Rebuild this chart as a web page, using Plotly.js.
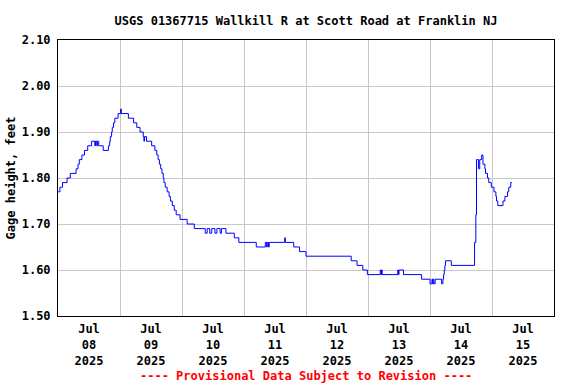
<!DOCTYPE html>
<html>
<head>
<meta charset="utf-8">
<script src="https://cdn.plot.ly/plotly-3.0.1.min.js"></script>
<style>html,body{margin:0;padding:0;background:#fff;}#chart{width:576px;height:384px;}</style>
</head>
<body>
<div id="chart"></div>
<script>
// Gage height readings (step changes)
var times = [
"2025-07-08 00:00","2025-07-08 00:45","2025-07-08 01:45","2025-07-08 03:30","2025-07-08 04:45",
"2025-07-08 07:00","2025-07-08 07:45","2025-07-08 08:15","2025-07-08 09:15","2025-07-08 10:15",
"2025-07-08 11:30","2025-07-08 13:00","2025-07-08 14:15","2025-07-08 14:30","2025-07-08 15:00",
"2025-07-08 15:15","2025-07-08 15:45","2025-07-08 17:30","2025-07-08 19:30","2025-07-08 20:00",
"2025-07-08 20:15","2025-07-08 20:45","2025-07-08 21:00","2025-07-08 21:30","2025-07-08 22:00",
"2025-07-08 23:15",
"2025-07-09 00:15","2025-07-09 00:30","2025-07-09 03:15","2025-07-09 05:15","2025-07-09 06:30",
"2025-07-09 07:45","2025-07-09 09:00","2025-07-09 09:15","2025-07-09 09:30","2025-07-09 10:15",
"2025-07-09 12:15","2025-07-09 13:30","2025-07-09 14:15","2025-07-09 14:45","2025-07-09 15:15",
"2025-07-09 15:45","2025-07-09 16:15","2025-07-09 16:45","2025-07-09 17:00","2025-07-09 17:30",
"2025-07-09 18:15","2025-07-09 19:00","2025-07-09 19:30","2025-07-09 20:15","2025-07-09 21:00",
"2025-07-09 21:45","2025-07-09 23:15",
"2025-07-10 02:00","2025-07-10 04:45","2025-07-10 09:00","2025-07-10 09:45","2025-07-10 10:45",
"2025-07-10 11:30","2025-07-10 12:45","2025-07-10 13:30","2025-07-10 14:45","2025-07-10 15:15",
"2025-07-10 17:00","2025-07-10 20:15","2025-07-10 22:00",
"2025-07-11 04:45","2025-07-11 08:15","2025-07-11 08:45","2025-07-11 09:00","2025-07-11 09:30",
"2025-07-11 09:45","2025-07-11 15:45","2025-07-11 16:00","2025-07-11 19:15","2025-07-11 21:30",
"2025-07-12 00:00","2025-07-12 17:30","2025-07-12 19:45","2025-07-12 22:00","2025-07-12 23:45",
"2025-07-13 04:45","2025-07-13 05:00","2025-07-13 05:15","2025-07-13 05:30","2025-07-13 11:30",
"2025-07-13 11:45","2025-07-13 12:00","2025-07-13 13:45","2025-07-13 20:45",
"2025-07-14 00:00","2025-07-14 00:45","2025-07-14 01:00","2025-07-14 01:15","2025-07-14 01:30",
"2025-07-14 02:00","2025-07-14 04:30","2025-07-14 05:00","2025-07-14 05:15","2025-07-14 05:30",
"2025-07-14 05:45","2025-07-14 06:00","2025-07-14 08:15","2025-07-14 17:15","2025-07-14 17:45",
"2025-07-14 18:00","2025-07-14 18:45","2025-07-14 19:15","2025-07-14 20:00","2025-07-14 20:30",
"2025-07-14 21:15","2025-07-14 21:30","2025-07-14 22:15","2025-07-14 22:45","2025-07-14 23:45",
"2025-07-15 00:45","2025-07-15 01:30","2025-07-15 01:45","2025-07-15 02:15","2025-07-15 04:15",
"2025-07-15 05:00","2025-07-15 06:00","2025-07-15 06:30","2025-07-15 07:15","2025-07-15 07:45"
];
var gageHeight = [
1.77,1.78,1.79,1.80,1.81,
1.82,1.83,1.84,1.85,1.86,
1.87,1.88,1.87,1.88,1.87,
1.88,1.87,1.86,1.87,1.88,
1.89,1.90,1.91,1.92,1.93,
1.94,
1.95,1.94,1.93,1.92,1.91,
1.90,1.89,1.88,1.89,1.88,
1.87,1.86,1.85,1.84,1.83,
1.82,1.81,1.80,1.79,1.78,
1.77,1.76,1.75,1.74,1.73,
1.72,1.71,
1.70,1.69,1.68,1.69,1.68,
1.69,1.68,1.69,1.68,1.69,
1.68,1.67,1.66,
1.65,1.66,1.65,1.66,1.65,
1.66,1.67,1.66,1.65,1.64,
1.63,1.62,1.61,1.60,1.59,
1.60,1.59,1.60,1.59,1.60,
1.59,1.60,1.59,1.58,
1.57,1.58,1.57,1.58,1.57,
1.58,1.57,1.58,1.59,1.60,
1.61,1.62,1.61,1.66,1.72,
1.84,1.82,1.84,1.85,1.83,
1.82,1.81,1.80,1.79,1.78,
1.77,1.76,1.75,1.74,1.75,
1.76,1.77,1.78,1.79,1.79
];
// X tick labels (centred at noon of each day)
var tickDays = ["2025-07-08 12:00","2025-07-09 12:00","2025-07-10 12:00","2025-07-11 12:00",
                "2025-07-12 12:00","2025-07-13 12:00","2025-07-14 12:00","2025-07-15 12:00"];
var tickMonth = ["Jul","Jul","Jul","Jul","Jul","Jul","Jul","Jul"];
var tickDayNum = ["08","09","10","11","12","13","14","15"];
var tickYear = ["2025","2025","2025","2025","2025","2025","2025","2025"];
var tickText = tickMonth.map(function(m,i){return m+"<br>"+tickDayNum[i]+"<br>"+tickYear[i];});

var xRange = ["2025-07-08 00:00","2025-07-16 00:00"];
var FONT = "DejaVu Sans Mono, Liberation Mono, monospace";
var grid = "#c8c8c8";

var data = [{
  x: times, y: gageHeight, type: "scatter", mode: "lines",
  line: {color: "#0000ff", width: 1, shape: "hv"},
  hoverinfo: "x+y"
}];

var layout = {
  width: 576, height: 384,
  margin: {l: 58, r: 22, t: 40, b: 68, pad: 0},
  paper_bgcolor: "#ffffff", plot_bgcolor: "#ffffff",
  showlegend: false,
  title: {
    text: "USGS 01367715 Wallkill R at Scott Road at Franklin NJ",
    font: {family: FONT, size: 12, color: "#000", weight: "bold"},
    xref: "paper", x: 0.5, xanchor: "center",
    yref: "container", y: 1 - 21/384, yanchor: "middle"
  },
  xaxis: {
    type: "date", range: xRange,
    tickmode: "array", tickvals: tickDays, ticktext: tickText,
    tickfont: {family: FONT, size: 12, color: "#000", weight: "bold"},
    ticks: "", ticklabelstandoff: 2,
    showgrid: false,
    minor: {tickmode: "linear", tick0: "2025-07-08 00:00", dtick: 86400000,
            showgrid: true, gridcolor: grid, gridwidth: 1, ticks: ""},
    showline: true, linecolor: "#000", linewidth: 1, mirror: true,
    zeroline: false
  },
  yaxis: {
    range: [1.5, 2.1], tickmode: "linear", tick0: 1.5, dtick: 0.1, tickformat: ".2f",
    tickfont: {family: FONT, size: 12, color: "#000", weight: "bold"},
    ticks: "", ticklabelstandoff: 4,
    showgrid: true, gridcolor: grid, gridwidth: 1,
    showline: true, linecolor: "#000", linewidth: 1, mirror: true,
    zeroline: false,
    title: {text: "Gage height, feet", font: {family: FONT, size: 12, color: "#000", weight: "bold"}, standoff: 3}
  },
  annotations: [{
    text: "---- Provisional Data Subject to Revision ----",
    font: {family: FONT, size: 12, color: "#ff0000", weight: "bold"},
    xref: "paper", x: 0.5, xanchor: "center",
    yref: "paper", y: (315.5 - 375) / 276, yanchor: "middle",
    showarrow: false
  }]
};

Plotly.newPlot("chart", data, layout, {displayModeBar: false, staticPlot: true});
</script>
</body>
</html>
